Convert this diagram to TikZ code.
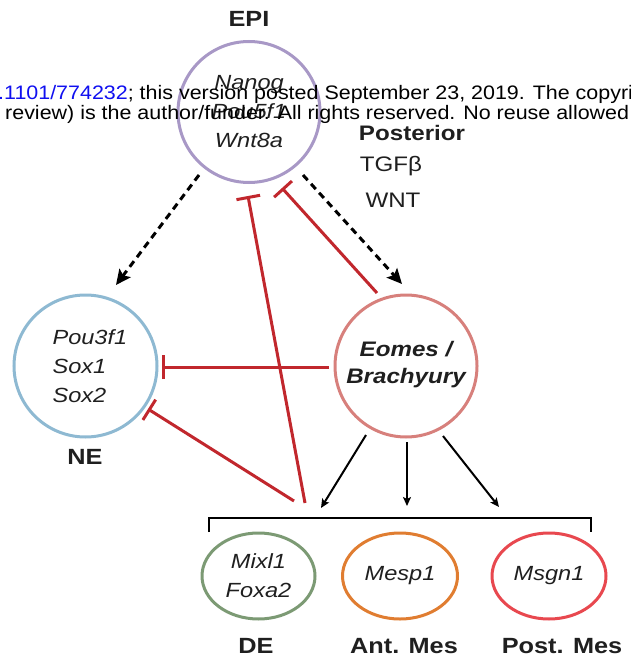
\documentclass[tikz,border=0pt]{standalone}
\usepackage{fontspec}
\setmainfont[FakeStretch=1.15]{Liberation Sans}
\newfontfamily\wmfont[FakeStretch=1.1]{Liberation Sans}
\usetikzlibrary{arrows.meta,shapes.geometric}
\definecolor{epic}{HTML}{A898C6}
\definecolor{nec}{HTML}{8EB9D2}
\definecolor{eoc}{HTML}{D7807C}
\definecolor{dec}{HTML}{7C9A74}
\definecolor{amc}{HTML}{E07D31}
\definecolor{pmc}{HTML}{E8484F}
\definecolor{inhc}{HTML}{C1272D}
\definecolor{linkc}{HTML}{1010F0}
\tikzset{
  cell/.style={ellipse, draw, line width=3pt, inner sep=0pt},
  gene/.style={font=\fontsize{20.5}{29}\selectfont\itshape, text=black!88},
  lbl/.style={font=\fontsize{22}{26}\selectfont\bfseries, text=black!88},
  sig/.style={font=\fontsize{21}{26}\selectfont, text=black!88},
  inhib/.style={draw=inhc, line width=3pt, -{Bar[width=24pt,line width=3pt]}},
  dasharr/.style={draw=black, line width=3pt, dash pattern=on 7pt off 5pt, -{Stealth[length=15pt,width=14pt,inset=3pt]}},
  blkarr/.style={draw=black, line width=2pt, -{Stealth[length=9pt,width=8pt,inset=2pt]}},
  wm/.style={font=\wmfont\fontsize{19.5}{20}\selectfont, inner sep=0pt, anchor=base west}
}
\begin{document}
\begin{tikzpicture}[x=1pt,y=-1pt]
\useasboundingbox (0,0) rectangle (630,663);
\clip (0,0) rectangle (630,663);
% cells
\node[cell, draw=epic, minimum width=142pt, minimum height=141pt] (epi) at (249,112) {};
\node[cell, draw=nec, minimum width=143pt, minimum height=142pt] (ne) at (85.5,366) {};
\node[cell, draw=eoc, minimum width=142pt, minimum height=142pt] (eo) at (406,366) {};
\node[cell, draw=dec, minimum width=113pt, minimum height=86pt] (de) at (258.5,576) {};
\node[cell, draw=amc, minimum width=115pt, minimum height=86pt] (am) at (400,576) {};
\node[cell, draw=pmc, minimum width=114pt, minimum height=86pt] (pm) at (549,576) {};
% texts in cells
\node[gene, align=center] (epit) at (249,112) {Nanog\\Pou5f1\\Wnt8a};
\node[gene, align=left, anchor=west] (net) at (49,366) {Pou3f1\\Sox1\\Sox2};
\node[gene, font=\fontsize{21}{27}\selectfont\bfseries\itshape, align=center] (eot) at (406,365) {Eomes /\\Brachyury};
\node[gene, align=center] (det) at (258.5,576) {Mixl1\\Foxa2};
\node[gene] (amt) at (400,576) {Mesp1};
\node[gene] (pmt) at (549,576) {Msgn1};
% labels
\node[lbl] (epil) at (249,19) {EPI};
\node[lbl] (nel) at (85,457) {NE};
\node[lbl] (del) at (256,646) {DE};
\node[lbl] (aml) at (404,646) {Ant. Mes};
\node[lbl] (pml) at (562,646) {Post. Mes};
\node[lbl, font=\fontsize{21}{26}\selectfont\bfseries] (post) at (412,133) {Posterior};
\node[sig] (tgf) at (391,166) {TGFβ};
\node[sig] (wnt) at (393,200) {WNT};
% dashed arrows
\coordinate (d1s) at (199,175); \coordinate (d1e) at (116,285);
\coordinate (d2s) at (303,175); \coordinate (d2e) at (402,284);
\draw[dasharr] (d1s) -- (d1e);
\draw[dasharr] (d2s) -- (d2e);
% inhibition
\coordinate (i1s) at (377,293); \coordinate (i1e) at (282,188);
\coordinate (i2s) at (305,503); \coordinate (i2e) at (248,196);
\coordinate (i3s) at (329,367); \coordinate (i3e) at (162,367);
\coordinate (i4s) at (294,501); \coordinate (i4e) at (148,409);
\draw[inhib] (i1s) -- (i1e);
\draw[inhib] (i2s) -- (i2e);
\draw[inhib] (i3s) -- (i3e);
\draw[inhib] (i4s) -- (i4e);
% black arrows
\coordinate (a1s) at (366,435); \coordinate (a1e) at (321,508);
\coordinate (a2s) at (407,442); \coordinate (a2e) at (407,506);
\coordinate (a3s) at (443,436); \coordinate (a3e) at (499,507);
\draw[blkarr] (a1s) -- (a1e);
\draw[blkarr] (a2s) -- (a2e);
\draw[blkarr] (a3s) -- (a3e);
% bracket
\coordinate (bl) at (209,532); \coordinate (br) at (591,532);
\draw[black, line width=2pt] (bl) -- (209,518) -- (591,518) -- (br);
% watermark
\node[wm] (wm1) at (-2,100) {\textcolor{linkc}{.1101/774232}; this version posted September 23, 2019. The copyright};
\node[wm] (wm2) at (5,120) {review) is the author/funder. All rights reserved. No reuse allowed without};
\end{tikzpicture}
\end{document}
